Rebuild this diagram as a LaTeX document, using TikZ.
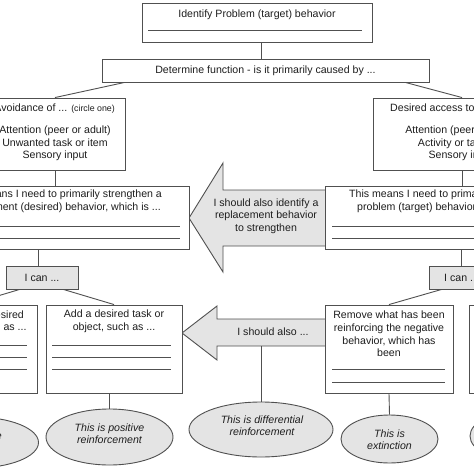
\documentclass[tikz,border=0pt]{standalone}
\usepackage{fontspec}
\setmainfont{Liberation Sans}
\usetikzlibrary{calc,shapes.geometric}
\definecolor{linec}{HTML}{505050}
\definecolor{fillc}{HTML}{E4E4E4}
\definecolor{txtc}{HTML}{1E1E1E}
\begin{document}
\begin{tikzpicture}[x=1pt,y=-1pt,
  every node/.style={text=txtc,font=\fontsize{10.6}{12.6}\selectfont},
  bx/.style={draw=linec,line width=0.9pt,fill=white,inner sep=0pt,rectangle},
  gbx/.style={bx,fill=fillc},
  ell/.style={draw=linec,line width=0.9pt,fill=fillc,ellipse,inner sep=0pt},
  conn/.style={draw=linec,line width=0.9pt},
  blank/.style={draw=linec,line width=0.7pt},
  txt/.style={align=center,inner sep=0pt},
  itxt/.style={align=center,inner sep=0pt,font=\fontsize{10.6}{12.4}\selectfont\itshape},
  bigarrow/.style={draw=linec,line width=0.9pt,fill=fillc,line join=miter}
]
\useasboundingbox (0,0) rectangle (474,474);
\clip (0,0) rectangle (474,474);
\fill[white] (0,0) rectangle (474,474);

% big arrows (behind boxes)
\draw[bigarrow] (189,218) -- (223,163) -- (223,190) -- (326,190) -- (326,246) -- (223,246) -- (223,272) -- cycle;
\draw[bigarrow] (182,333) -- (217,306) -- (217,319) -- (326,319) -- (326,346) -- (217,346) -- (217,360) -- cycle;
\node[txt] (arr1) at (266,216) {I should also identify a\\replacement behavior\\to strengthen};
\node[txt] (arr2) at (273,332) {I should also ...};
\coordinate (a2b) at (261,346);

% boxes
\node[bx,minimum width=230pt,minimum height=39pt] (top) at (257,22.5) {};
\node[txt] (toptxt) at (257,14.5) {Identify Problem (target) behavior};
\draw[blank] (148,30) -- (362,30);

\node[bx,minimum width=327pt,minimum height=23pt] (func) at (265.5,70.5) {};
\node[txt] (functxt) at (265.5,70.5) {Determine function - is it primarily caused by ...};

\node[bx,minimum width=140pt,minimum height=72pt] (A) at (55,134) {};
\node[txt,anchor=east] (Ah) at (115,108.5) {Avoidance of ... {\fontsize{8.8}{10}\selectfont(circle one)}};
\node[txt] (Atxt) at (55,143.5) {Attention (peer or adult)\\Unwanted task or item\\Sensory input};

\node[bx,minimum width=178pt,minimum height=72pt] (B) at (462,134) {};
\node[txt,anchor=west] (Bh) at (390,108.5) {Desired access to ... {\fontsize{8.8}{10}\selectfont(circle one)}};
\node[txt] (Btxt) at (461,143.5) {Attention (peer or adult)\\Activity or tangible\\Sensory input};

\node[bx,minimum width=260pt,minimum height=63pt] (C) at (59,217.5) {};
\node[txt] (Ctxt) at (60,201.5) {This means I need to primarily strengthen a\\replacement (desired) behavior, which is ...};
\draw[blank] (-60,226) -- (180,226);
\draw[blank] (-60,238) -- (180,238);

\node[bx,minimum width=272pt,minimum height=63pt] (D) at (461,217.5) {};
\node[txt,anchor=west] (Dt1) at (349,195) {This means I need to primarily weaken the};
\node[txt,anchor=west] (Dt2) at (357,208) {problem (target) behavior, which is ...};
\draw[blank] (332,226) -- (590,226);
\draw[blank] (332,238) -- (590,238);

\node[gbx,minimum width=72pt,minimum height=23pt] (ican1) at (42,277.5) {};
\node[txt] (ican1t) at (42,277.5) {I can ...};
\node[gbx,minimum width=72pt,minimum height=23pt] (ican2) at (465,277.5) {};
\node[txt,anchor=west] (ican2t) at (444,277.5) {I can ...};

\node[bx,minimum width=136pt,minimum height=88pt] (E) at (-31,349) {};
\node[txt] (Etxt) at (-28,321.5) {Remove an undesired\\task or item, such as ...};
\foreach \yy in {345,357,369} \draw[blank] (-90,\yy) -- (27,\yy);

\node[bx,minimum width=136pt,minimum height=88pt] (F) at (114,349) {};
\node[txt] (Ftxt) at (114,321.5) {Add a desired task or\\object, such as ...};
\foreach \yy in {345,357,369} \draw[blank] (52,\yy) -- (171,\yy);

\node[bx,minimum width=128pt,minimum height=88pt] (H) at (389,349) {};
\node[txt] (Htxt) at (389,334) {Remove what has been\\reinforcing the negative\\behavior, which has\\been};
\draw[blank] (332,369) -- (445,369);
\draw[blank] (332,382) -- (445,382);

\node[bx,minimum width=136pt,minimum height=88pt] (I) at (537,349) {};

% ellipses
\node[ell,minimum width=127pt,minimum height=51pt] (negr) at (-25,442.5) {};
\node[itxt] (negrt) at (-35,442) {This is negative\\reinforcement};
\node[ell,minimum width=127pt,minimum height=56pt] (posr) at (109.5,437) {};
\node[itxt] (posrt) at (109.5,434) {This is positive\\reinforcement};
\node[ell,minimum width=144pt,minimum height=55pt] (diff) at (261,429.5) {};
\node[itxt] (difft) at (262,426) {This is differential\\reinforcement};
\node[ell,minimum width=97pt,minimum height=48pt] (ext) at (389.5,439) {};
\node[itxt] (extt) at (389.5,440) {This is\\extinction};
\node[ell,minimum width=100pt,minimum height=50pt] (farr) at (520,436) {};

% connectors
\draw[conn] ([xshift=4pt]top.south) -- ([xshift=4pt]top.south |- func.north);
\draw[conn] ([xshift=23pt]func.south west) -- (A.north);
\draw[conn] ([xshift=-24pt]func.south east) -- (B.north);
\draw[conn] (A.south) -- (A.south |- C.north);
\draw[conn] (B.south) -- (B.south |- D.north);
\draw[conn] ([xshift=-4pt]ican1.north |- C.south) -- ([xshift=-4pt]ican1.north);
\draw[conn] (D.south) -- (D.south |- ican2.north);
\draw[conn] ([xshift=14pt]ican1.south west) -- (E.north);
\draw[conn] ([xshift=-15pt]ican1.south east) -- (F.north);
\draw[conn] ([xshift=13pt]ican2.south west) -- (H.north);
\draw[conn] (posr.north |- F.south) -- (posr.north);
\draw[conn] (a2b) -- (diff.north);
\draw[conn] (H.south) -- (ext.north);
\end{tikzpicture}
\end{document}
